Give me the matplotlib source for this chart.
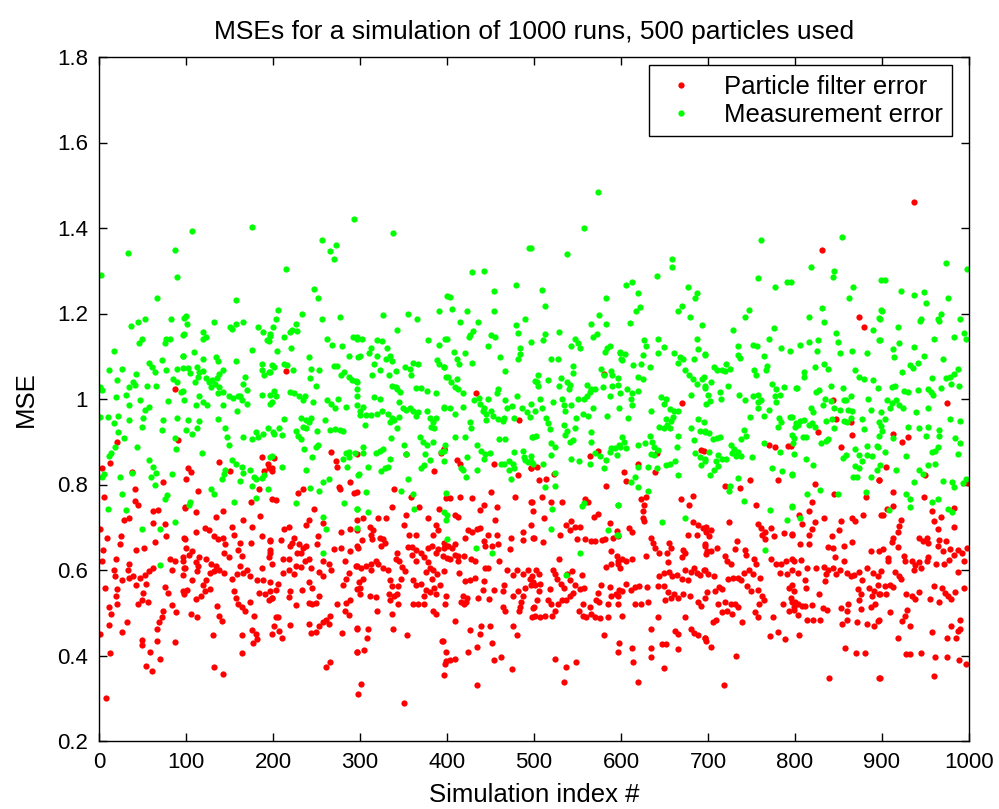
import matplotlib
matplotlib.use("Agg")
import matplotlib.pyplot as plt
from matplotlib.ticker import FuncFormatter

# ---- data: (simulation index, MSE), strip by strip ----
pf_s0 = [(87,1.024),(21,.90),(91,.904),(13,.85),(38,.83),(3,.839),(74,.805),(100,.813),(41,.79),(6,.77),(41,.762),(45,.751),(99,.746),(62,.737),(68,.74),(34,.722),(29,.718),(62,.71),(76,.707),(1,.695),(77,.679),(9,.676),(25,.68),(98,.676),(5,.647),(24,.66),(42,.647),(52,.651),(64,.665),(3,.622),(19,.626),(34,.615),(33,.60),(17,.60),(18,.587),(82,.626),(87,.622),(96,.63),(99,.605),(26,.577),(34,.581),(39,.585),(47,.581),(53,.589),(57,.597),(62,.605),(42,.564),(54,.568),(84,.60),(97,.589),(7,.557),(21,.555),(19,.539),(51,.547),(49,.53),(76,.56),(79,.547),(97,.551),(45,.52),(56,.526),(11,.513),(14,.497),(21,.52),(74,.505),(72,.49),(69,.479),(84,.518),(89,.501),(11,.472),(32,.479),(26,.455),(67,.463),(1,.451),(49,.437),(49,.424),(67,.434),(87,.432),(13,.407),(59,.408),(70,.391),(54,.375),(61,.364),(8,.30)]
pf_s1 = [(187,.864),(194,.848),(199,.839),(190,.831),(138,.852),(151,.831),(102,.839),(106,.829),(114,.785),(184,.789),(175,.76),(199,.766),(99,.747),(111,.735),(143,.739),(134,.724),(185,.727),(166,.718),(153,.701),(176,.701),(122,.699),(126,.693),(132,.68),(137,.672),(142,.674),(145,.66),(111,.689),(99,.672),(155,.682),(162,.664),(175,.664),(187,.68),(197,.668),(100,.651),(107,.645),(103,.635),(115,.63),(111,.618),(123,.626),(129,.615),(134,.609),(144,.639),(149,.63),(160,.647),(164,.632),(196,.647),(97,.622),(98,.605),(114,.609),(113,.597),(128,.593),(132,.597),(138,.601),(144,.593),(162,.609),(159,.59),(165,.593),(170,.599),(187,.604),(199,.615),(123,.576),(119,.564),(122,.551),(128,.555),(117,.54),(107,.576),(153,.579),(174,.585),(182,.576),(189,.576),(197,.572),(101,.554),(98,.543),(111,.532),(155,.551),(157,.534),(160,.52),(164,.513),(168,.505),(174,.526),(184,.547),(191,.545),(199,.534),(136,.515),(106,.497),(113,.489),(138,.493),(141,.48),(178,.493),(131,.449),(164,.449),(176,.459),(180,.451),(182,.438),(177,.43),(199,.451),(164,.405),(132,.372),(143,.357)]
pf_s2 = [(215,1.066),(267,.877),(201,.863),(195,.839),(199,.832),(272,.854),(274,.841),(276,.793),(277,.789),(288,.806),(234,.789),(229,.779),(203,.764),(293,.781),(247,.743),(218,.701),(213,.696),(238,.705),(241,.716),(257,.71),(278,.69),(289,.696),(296,.693),(252,.68),(197,.671),(209,.671),(224,.676),(222,.662),(219,.655),(230,.66),(234,.651),(238,.655),(232,.639),(228,.64),(251,.66),(197,.64),(195,.63),(270,.649),(278,.651),(289,.645),(297,.655),(212,.626),(218,.626),(237,.622),(241,.626),(227,.609),(232,.607),(244,.605),(257,.622),(264,.614),(267,.601),(283,.622),(296,.609),(212,.593),(218,.599),(224,.59),(253,.595),(257,.585),(287,.593),(284,.58),(241,.572),(245,.559),(280,.564),(206,.568),(204,.554),(197,.551),(220,.551),(218,.537),(233,.554),(253,.54),(296,.555),(300,.543),(195,.53),(199,.534),(245,.52),(241,.523),(249,.522),(226,.518),(274,.52),(284,.522),(289,.53),(283,.505),(287,.495),(265,.493),(261,.484),(257,.479),(253,.468),(264,.474),(203,.49),(206,.489),(201,.468),(219,.472),(241,.474),(244,.453),(249,.455),(207,.457),(210,.442),(279,.453),(296,.465),(296,.409),(261,.373),(265,.384),(298,.31)]
pf_s3 = [(297,.871),(353,.871),(396,.883),(393,.874),(385,.832),(399,.768),(297,.782),(339,.789),(359,.771),(337,.747),(368,.747),(391,.743),(353,.729),(378,.721),(297,.718),(304,.722),(321,.722),(330,.721),(351,.705),(356,.682),(364,.682),(387,.705),(384,.682),(390,.693),(311,.701),(315,.693),(313,.681),(314,.672),(323,.676),(327,.672),(329,.664),(324,.655),(302,.671),(298,.651),(355,.654),(360,.654),(364,.647),(360,.635),(364,.622),(370,.64),(374,.63),(378,.651),(383,.655),(387,.639),(378,.618),(380,.605),(376,.595),(384,.601),(390,.649),(396,.651),(343,.64),(341,.626),(345,.622),(348,.607),(352,.597),(396,.597),(295,.609),(301,.605),(307,.609),(313,.614),(318,.622),(321,.615),(326,.605),(332,.599),(313,.599),(388,.59),(383,.58),(299,.572),(304,.58),(300,.557),(334,.576),(337,.562),(333,.543),(334,.53),(347,.579),(344,.562),(342,.545),(339,.539),(361,.576),(364,.564),(370,.568),(376,.554),(374,.539),(380,.549),(385,.559),(387,.545),(392,.564),(312,.539),(318,.537),(344,.52),(361,.52),(367,.52),(374,.52),(398,.52),(384,.503),(387,.497),(337,.497),(320,.503),(338,.463),(297,.463),(309,.463),(308,.442),(354,.449),(394,.434),(305,.413),(297,.409),(399,.409),(398,.38),(301,.334),(350,.29)]
pf_s4 = [(433,1.013),(483,.952),(397,.883),(411,.858),(415,.849),(454,.848),(496,.839),(482,.823),(451,.782),(478,.771),(404,.768),(415,.771),(429,.768),(443,.752),(438,.741),(457,.747),(498,.76),(499,.739),(409,.729),(413,.724),(455,.716),(496,.705),(424,.693),(429,.689),(434,.696),(438,.699),(447,.682),(457,.682),(487,.69),(421,.674),(442,.668),(444,.655),(452,.657),(459,.66),(474,.674),(487,.671),(499,.676),(397,.664),(401,.655),(406,.651),(409,.66),(409,.635),(413,.632),(413,.62),(395,.632),(400,.628),(404,.626),(420,.632),(428,.626),(432,.622),(472,.649),(444,.604),(447,.605),(460,.622),(414,.593),(469,.599),(480,.601),(476,.589),(487,.59),(493,.599),(498,.585),(421,.574),(427,.576),(432,.581),(443,.574),(466,.564),(464,.551),(496,.564),(490,.557),(487,.54),(441,.554),(454,.554),(436,.535),(448,.532),(399,.54),(418,.539),(423,.535),(416,.526),(419,.52),(422,.526),(476,.54),(482,.551),(485,.526),(484,.513),(483,.503),(464,.513),(467,.503),(499,.512),(498,.489),(409,.48),(426,.459),(439,.468),(438,.451),(449,.468),(476,.468),(480,.449),(452,.43),(395,.434),(434,.42),(424,.409),(404,.39),(409,.392),(399,.388),(462,.397),(454,.39),(475,.368),(397,.355),(434,.331)]
pf_s5 = [(580,1.058),(574,.879),(564,.866),(497,.838),(504,.841),(523,.824),(514,.814),(506,.81),(583,.796),(497,.76),(509,.771),(520,.76),(559,.766),(562,.76),(532,.76),(511,.721),(569,.724),(574,.731),(587,.71),(537,.705),(541,.693),(547,.701),(553,.701),(542,.714),(530,.682),(578,.671),(582,.672),(591,.676),(597,.679),(500,.674),(510,.666),(549,.672),(559,.672),(565,.668),(570,.668),(589,.645),(529,.626),(583,.607),(589,.614),(596,.622),(599,.605),(502,.601),(506,.59),(495,.58),(499,.572),(501,.565),(507,.568),(522,.601),(524,.59),(527,.579),(531,.568),(534,.557),(538,.59),(544,.597),(541,.576),(547,.564),(555,.589),(557,.559),(553,.555),(545,.547),(541,.539),(577,.564),(574,.547),(571,.53),(575,.524),(587,.56),(589,.54),(594,.545),(598,.554),(506,.551),(518,.555),(503,.53),(516,.53),(520,.52),(528,.52),(532,.53),(537,.53),(556,.52),(585,.52),(597,.52),(500,.513),(524,.505),(521,.493),(513,.493),(501,.493),(507,.489),(552,.503),(556,.493),(560,.489),(565,.497),(564,.513),(585,.489),(576,.487),(570,.489),(580,.447),(598,.43),(524,.392),(537,.372),(548,.384),(534,.337)]
pf_s6 = [(670,.991),(641,.874),(692,.881),(619,.849),(603,.829),(606,.808),(639,.829),(683,.774),(629,.771),(623,.766),(626,.752),(625,.739),(669,.766),(678,.752),(625,.722),(626,.714),(683,.712),(689,.706),(694,.699),(698,.689),(595,.691),(609,.699),(613,.689),(634,.676),(637,.664),(639,.651),(644,.64),(655,.664),(657,.651),(653,.64),(677,.682),(687,.682),(671,.647),(674,.639),(670,.63),(696,.66),(699,.645),(595,.632),(601,.626),(606,.62),(613,.626),(629,.632),(654,.618),(597,.614),(644,.585),(649,.593),(655,.595),(659,.585),(664,.589),(670,.58),(677,.576),(674,.601),(680,.595),(684,.605),(687,.593),(691,.589),(696,.601),(700,.59),(606,.568),(611,.554),(616,.56),(621,.562),(630,.56),(601,.551),(597,.54),(642,.562),(649,.562),(654,.549),(657,.534),(651,.53),(661,.545),(666,.534),(671,.545),(679,.54),(689,.524),(696,.534),(692,.515),(631,.526),(616,.52),(623,.52),(601,.493),(643,.49),(674,.489),(662,.457),(666,.451),(680,.463),(684,.453),(689,.447),(696,.44),(698,.434),(634,.463),(613,.418),(597,.409),(634,.418),(647,.426),(652,.426),(665,.415),(634,.397),(614,.384),(649,.37),(619,.338)]
pf_s7 = [(770,.893),(777,.888),(792,.889),(695,.879),(719,.797),(737,.791),(748,.81),(780,.81),(755,.752),(724,.712),(757,.707),(698,.701),(703,.693),(701,.679),(761,.699),(765,.689),(772,.699),(776,.679),(765,.672),(762,.682),(787,.687),(796,.682),(733,.668),(731,.649),(697,.657),(704,.645),(710,.651),(698,.637),(719,.632),(722,.622),(726,.615),(743,.647),(744,.635),(753,.626),(755,.615),(772,.626),(778,.614),(784,.615),(790,.622),(796,.626),(695,.599),(707,.585),(741,.593),(747,.601),(752,.59),(760,.582),(723,.579),(729,.581),(734,.581),(738,.576),(783,.593),(791,.59),(745,.562),(749,.551),(699,.549),(708,.551),(713,.56),(716,.555),(793,.559),(799,.551),(757,.554),(762,.54),(764,.53),(759,.52),(711,.52),(720,.524),(726,.52),(731,.52),(734,.513),(786,.52),(796,.524),(799,.513),(716,.501),(722,.505),(728,.497),(754,.501),(757,.489),(775,.49),(793,.503),(709,.484),(706,.479),(739,.479),(771,.445),(780,.455),(789,.438),(697,.44),(703,.42),(732,.40),(718,.331)]
pf_s8 = [(831,1.348),(874,1.192),(879,1.169),(844,.998),(847,.954),(864,.946),(826,.923),(865,.916),(853,.888),(795,.891),(897,.81),(823,.802),(845,.777),(882,.771),(819,.76),(816,.739),(805,.729),(808,.707),(833,.721),(823,.712),(819,.697),(816,.682),(853,.714),(851,.693),(842,.679),(866,.722),(878,.729),(869,.714),(899,.729),(897,.645),(797,.685),(806,.66),(816,.66),(838,.654),(844,.651),(865,.665),(856,.657),(887,.645),(846,.63),(856,.622),(799,.622),(807,.624),(797,.601),(803,.593),(814,.605),(824,.604),(833,.607),(836,.59),(838,.599),(844,.604),(847,.59),(852,.599),(834,.574),(860,.593),(864,.585),(868,.589),(874,.595),(877,.576),(883,.604),(890,.593),(895,.587),(899,.597),(811,.576),(813,.557),(828,.543),(872,.555),(876,.543),(874,.53),(885,.557),(891,.551),(889,.539),(896,.545),(797,.564),(795,.534),(800,.526),(803,.52),(799,.507),(819,.518),(811,.515),(808,.515),(832,.512),(837,.507),(853,.512),(861,.52),(860,.505),(876,.509),(887,.513),(892,.52),(804,.495),(814,.484),(821,.484),(829,.482),(860,.484),(854,.473),(871,.479),(883,.473),(891,.47),(896,.484),(805,.449),(857,.418),(870,.407),(880,.407),(839,.347),(897,.347)]
pf_s9 = [(937,1.461),(975,.991),(913,.918),(923,.899),(930,.91),(949,.823),(897,.81),(905,.841),(999,.804),(913,.782),(948,.771),(901,.729),(906,.743),(913,.749),(983,.745),(957,.739),(968,.724),(960,.714),(964,.697),(983,.701),(922,.716),(920,.704),(918,.689),(913,.676),(911,.666),(943,.676),(947,.668),(952,.674),(953,.664),(966,.671),(974,.668),(964,.655),(970,.645),(978,.649),(901,.649),(907,.628),(907,.62),(925,.632),(926,.622),(918,.654),(934,.62),(938,.612),(942,.618),(937,.601),(945,.605),(952,.62),(953,.63),(962,.615),(977,.624),(983,.635),(987,.647),(992,.64),(998,.651),(994,.622),(915,.595),(919,.585),(922,.579),(971,.615),(987,.595),(895,.565),(903,.562),(909,.564),(913,.56),(898,.543),(905,.543),(960,.562),(969,.557),(972,.547),(976,.539),(979,.532),(994,.557),(984,.549),(928,.545),(934,.539),(938,.532),(943,.549),(955,.532),(966,.526),(909,.501),(929,.507),(926,.493),(923,.48),(932,.468),(918,.442),(895,.48),(957,.455),(975,.442),(979,.468),(987,.457),(985,.44),(990,.463),(990,.482),(928,.403),(932,.403),(945,.407),(961,.397),(975,.397),(989,.39),(996,.38),(898,.347),(960,.351)]

me_s0 = [(33,1.342),(87,1.349),(2,1.29),(90,1.286),(67,1.236),(37,1.17),(45,1.18),(53,1.188),(83,1.188),(98,1.19),(97,1.15),(49,1.14),(46,1.13),(77,1.14),(82,1.14),(76,1.13),(17,1.113),(96,1.10),(57,1.085),(61,1.075),(64,1.063),(72,1.091),(12,1.067),(26,1.07),(77,1.067),(90,1.07),(96,1.073),(43,1.058),(21,1.044),(85,1.047),(1,1.027),(4,1.02),(34,1.027),(41,1.033),(39,1.04),(19,1.004),(31,1.01),(55,1.03),(66,1.03),(90,1.04),(94,1.016),(79,.996),(35,.987),(47,.997),(53,.974),(57,.981),(51,.956),(1,.958),(10,.958),(17,.944),(22,.96),(22,.922),(34,.951),(29,.908),(49,.935),(74,.95),(90,.956),(100,.927),(72,.927),(44,.888),(87,.908),(88,.882),(57,.858),(62,.841),(66,.827),(60,.818),(14,.874),(18,.888),(12,.866),(6,.824),(4,.818),(24,.818),(38,.826),(84,.824),(64,.80),(26,.777),(78,.775),(76,.765),(10,.743),(31,.74),(49,.696),(70,.697),(87,.712),(70,.612)]
me_s1 = [(107,1.394),(176,1.403),(157,1.232),(100,1.194),(101,1.175),(98,1.152),(132,1.18),(120,1.157),(123,1.144),(119,1.14),(151,1.169),(157,1.175),(165,1.18),(153,1.163),(183,1.169),(188,1.157),(196,1.152),(193,1.138),(109,1.11),(97,1.10),(120,1.094),(134,1.098),(137,1.09),(157,1.09),(176,1.115),(113,1.075),(115,1.063),(114,1.052),(102,1.073),(105,1.06),(120,1.065),(123,1.05),(126,1.04),(130,1.044),(133,1.035),(129,1.027),(136,1.05),(138,1.058),(143,1.069),(187,1.069),(190,1.056),(187,1.081),(197,1.063),(199,1.08),(168,1.052),(166,1.035),(170,1.021),(162,1.006),(110,1.04),(138,1.027),(115,1.006),(120,.994),(97,1.019),(98,.998),(112,.985),(124,.985),(137,1.013),(143,1.016),(149,1.006),(154,1.002),(160,1.006),(164,.998),(170,.989),(143,.985),(187,1.01),(196,1.01),(199,.994),(159,.973),(102,.952),(115,.949),(113,.931),(107,.918),(137,.954),(145,.931),(147,.91),(149,.893),(166,.91),(180,.923),(183,.91),(189,.918),(194,.931),(200,.923),(176,.906),(118,.873),(153,.858),(157,.848),(164,.841),(166,.827),(174,.835),(178,.818),(180,.812),(176,.797),(145,.835),(141,.814),(144,.824),(187,.816),(190,.822),(196,.864),(162,.808),(129,.789),(132,.777),(105,.76),(103,.752),(155,.76),(180,.768),(194,.789)]
me_s2 = [(293,1.422),(256,1.372),(272,1.361),(266,1.347),(270,1.328),(215,1.305),(247,1.258),(252,1.236),(206,1.208),(203,1.188),(200,1.169),(197,1.148),(195,1.136),(233,1.198),(256,1.188),(277,1.192),(226,1.175),(222,1.161),(228,1.158),(219,1.157),(213,1.144),(262,1.14),(268,1.127),(279,1.125),(292,1.144),(296,1.141),(205,1.113),(221,1.119),(241,1.098),(287,1.10),(298,1.098),(201,1.075),(213,1.081),(216,1.08),(223,1.069),(195,1.063),(244,1.071),(253,1.069),(270,1.077),(274,1.077),(278,1.056),(282,1.063),(287,1.052),(291,1.044),(297,1.04),(296,1.023),(242,1.048),(249,1.03),(201,1.019),(204,1.006),(197,.988),(219,1.016),(224,1.013),(230,1.006),(234,.998),(237,1.006),(246,.994),(262,.998),(267,.989),(275,.999),(271,.98),(284,.981),(296,.985),(300,.973),(213,.954),(232,.956),(238,.952),(241,.946),(244,.956),(234,.935),(238,.933),(260,.95),(201,.918),(207,.931),(210,.916),(226,.924),(229,.913),(232,.906),(250,.924),(265,.927),(271,.929),(277,.927),(280,.924),(252,.893),(249,.888),(236,.883),(245,.864),(199,.866),(284,.873),(287,.877),(280,.86),(287,.864),(294,.873),(210,.841),(238,.833),(257,.807),(264,.814),(285,.841),(298,.822),(243,.791),(253,.785),(226,.757),(282,.757),(297,.743),(257,.724),(261,.697),(257,.64)]
me_s3 = [(338,1.389),(400,1.24),(327,1.197),(355,1.198),(366,1.188),(391,1.207),(343,1.161),(297,1.146),(302,1.14),(320,1.138),(325,1.136),(313,1.119),(310,1.108),(331,1.119),(330,1.094),(334,1.10),(337,1.088),(378,1.138),(391,1.127),(398,1.141),(300,1.10),(319,1.10),(316,1.081),(314,1.056),(323,1.069),(333,1.056),(341,1.065),(352,1.075),(357,1.071),(361,1.085),(367,1.081),(359,1.056),(388,1.091),(391,1.081),(396,1.075),(399,1.052),(295,1.041),(337,1.031),(341,1.027),(343,1.023),(346,1.016),(364,1.025),(370,1.025),(377,1.019),(387,1.015),(297,1.006),(304,.981),(316,1.004),(323,.999),(345,.994),(349,.98),(353,.974),(357,.98),(361,.973),(364,.96),(367,.969),(396,.981),(300,.963),(307,.963),(313,.963),(319,.966),(325,.971),(332,.964),(337,.956),(334,.946),(339,.952),(345,.958),(306,.939),(342,.933),(377,.971),(380,.956),(384,.946),(382,.935),(387,.956),(385,.931),(336,.908),(369,.91),(372,.899),(377,.893),(384,.899),(398,.893),(304,.888),(304,.874),(318,.874),(323,.879),(327,.883),(350,.893),(353,.871),(334,.86),(375,.871),(393,.877),(396,.854),(309,.841),(324,.831),(329,.838),(332,.841),(299,.824),(370,.838),(374,.846),(380,.858),(355,.814),(307,.782),(347,.785),(361,.777),(362,.743),(297,.743),(399,.779),(309,.735),(396,.735),(399,.718),(297,.699)]
me_s4 = [(494,1.353),(429,1.297),(442,1.30),(454,1.253),(479,1.267),(403,1.238),(406,1.211),(423,1.207),(454,1.207),(490,1.188),(415,1.18),(436,1.18),(479,1.173),(482,1.155),(400,1.141),(427,1.15),(430,1.158),(425,1.146),(451,1.15),(455,1.144),(447,1.125),(497,1.133),(484,1.119),(484,1.105),(482,1.094),(408,1.11),(411,1.094),(414,1.081),(421,1.108),(429,1.085),(461,1.098),(397,1.075),(467,1.066),(401,1.052),(405,1.04),(411,1.046),(409,1.027),(413,1.023),(418,1.013),(459,1.023),(457,1.013),(501,1.041),(431,.998),(437,1.002),(438,.989),(443,.98),(441,.971),(445,.966),(450,.973),(453,.96),(459,.954),(464,.949),(445,.952),(418,.981),(447,1.0),(467,.998),(475,.983),(469,.98),(480,1.006),(486,.98),(492,.97),(495,.958),(397,.98),(404,.98),(409,.966),(426,.946),(428,.933),(465,.956),(477,.956),(498,.91),(409,.91),(421,.91),(460,.906),(467,.906),(434,.893),(439,.879),(444,.872),(443,.86),(449,.874),(477,.877),(487,.879),(489,.864),(493,.852),(490,.858),(497,.866),(397,.879),(423,.864),(471,.854),(466,.848),(471,.835),(462,.848),(476,.849),(477,.838),(416,.839),(418,.835),(434,.835),(474,.814),(422,.818),(400,.729),(400,.672),(433,.651),(452,.64)]
me_s5 = [(573,1.484),(557,1.399),(497,1.353),(538,1.339),(509,1.255),(513,1.217),(583,1.236),(575,1.197),(583,1.175),(566,1.175),(529,1.157),(568,1.144),(572,1.152),(513,1.152),(510,1.138),(547,1.14),(551,1.13),(543,1.125),(553,1.119),(584,1.119),(582,1.11),(587,1.123),(599,1.11),(600,1.094),(520,1.094),(528,1.094),(545,1.077),(545,1.06),(577,1.071),(580,1.056),(589,1.066),(505,1.056),(503,1.04),(505,1.03),(516,1.044),(531,1.05),(529,1.03),(538,1.04),(541,1.033),(540,1.023),(561,1.033),(570,1.023),(579,1.027),(590,1.056),(590,1.03),(596,1.033),(551,.999),(557,.999),(561,1.006),(564,1.016),(566,1.023),(587,1.006),(522,.994),(497,.988),(507,.999),(509,.98),(501,.971),(532,.999),(534,.985),(536,.973),(543,.985),(556,.966),(562,.96),(568,.98),(584,.96),(598,.98),(514,.956),(516,.944),(518,.93),(534,.939),(536,.916),(538,.924),(547,.933),(548,.956),(566,.923),(499,.91),(502,.914),(519,.898),(524,.888),(520,.869),(541,.899),(545,.904),(566,.899),(570,.874),(576,.866),(589,.885),(593,.885),(598,.893),(587,.877),(543,.86),(552,.854),(564,.848),(583,.858),(497,.854),(499,.849),(510,.848),(580,.838),(524,.827),(524,.797),(513,.793),(555,.749),(557,.756),(521,.743),(596,.752),(519,.697),(585,.693),(596,.682),(553,.64),(537,.589)]
me_s6 = [(659,1.328),(659,1.308),(641,1.288),(606,1.267),(613,1.273),(619,1.248),(677,1.263),(687,1.248),(685,1.236),(622,1.215),(617,1.205),(670,1.217),(666,1.207),(610,1.177),(679,1.192),(693,1.173),(626,1.138),(629,1.123),(642,1.141),(649,1.121),(687,1.141),(688,1.116),(599,1.108),(605,1.106),(601,1.091),(625,1.102),(642,1.108),(661,1.108),(668,1.098),(665,1.085),(671,1.094),(684,1.094),(697,1.102),(614,1.08),(623,1.081),(633,1.075),(674,1.069),(678,1.056),(683,1.046),(687,1.035),(693,1.046),(696,1.03),(620,1.052),(625,1.046),(597,1.048),(599,1.013),(607,1.023),(613,1.013),(619,1.019),(611,1.0),(613,.985),(646,1.005),(652,1.0),(649,.989),(680,1.01),(634,.971),(608,.956),(656,.977),(661,.971),(666,.971),(652,.954),(657,.949),(660,.958),(653,.939),(649,.933),(644,.935),(656,.931),(698,.988),(689,.954),(695,.946),(601,.91),(604,.899),(599,.888),(606,.885),(595,.869),(619,.893),(628,.896),(633,.914),(636,.899),(638,.888),(643,.881),(666,.913),(680,.931),(684,.904),(664,.888),(691,.924),(697,.924),(634,.871),(638,.868),(662,.854),(631,.841),(641,.838),(652,.846),(656,.848),(685,.874),(691,.864),(696,.856),(692,.846),(665,.823),(619,.841),(616,.818),(611,.807),(620,.793),(631,.785),(597,.752),(674,.721),(647,.712),(595,.682)]
me_s7 = [(761,1.372),(757,1.282),(777,1.263),(791,1.273),(747,1.208),(743,1.192),(729,1.161),(776,1.165),(770,1.141),(734,1.123),(752,1.127),(756,1.123),(784,1.119),(794,1.113),(697,1.105),(734,1.102),(737,1.096),(764,1.10),(768,1.077),(767,1.069),(707,1.075),(710,1.069),(716,1.069),(721,1.081),(719,1.066),(725,1.071),(753,1.069),(755,1.055),(695,1.052),(703,1.04),(697,1.025),(723,1.031),(774,1.035),(778,1.023),(777,1.008),(778,.994),(787,1.027),(783,1.01),(801,1.025),(700,1.01),(702,.996),(714,1.016),(715,.999),(736,1.01),(743,.998),(752,1.006),(757,1.01),(757,.994),(761,.998),(748,.958),(757,.98),(764,.96),(770,.974),(782,.956),(784,.946),(780,.935),(794,.958),(697,.923),(701,.921),(706,.906),(710,.908),(714,.91),(741,.927),(744,.914),(738,.906),(796,.916),(799,.908),(726,.893),(730,.883),(734,.877),(738,.866),(732,.866),(728,.874),(750,.864),(764,.898),(783,.877),(798,.898),(701,.877),(697,.86),(711,.868),(716,.86),(721,.86),(711,.843),(707,.835),(702,.822),(709,.856),(774,.838),(785,.832),(796,.824),(734,.816),(725,.797),(724,.785),(741,.762),(771,.741),(796,.749),(791,.718),(766,.646)]
me_s8 = [(854,1.38),(818,1.308),(845,1.30),(844,1.286),(795,1.273),(867,1.263),(862,1.236),(899,1.278),(831,1.213),(816,1.192),(833,1.18),(899,1.208),(897,1.19),(847,1.155),(890,1.161),(897,1.138),(806,1.127),(816,1.133),(826,1.138),(825,1.113),(849,1.133),(852,1.108),(865,1.113),(883,1.108),(823,1.075),(833,1.083),(838,1.071),(810,1.063),(810,1.052),(869,1.069),(873,1.052),(879,1.046),(890,1.044),(895,1.025),(802,1.025),(824,1.016),(828,1.021),(841,1.03),(855,1.025),(859,.998),(864,1.006),(856,.998),(884,.999),(834,.999),(832,.985),(841,.996),(818,.98),(821,.969),(797,.958),(801,.944),(806,.948),(810,.952),(845,.98),(852,.974),(861,.974),(865,.971),(864,.956),(860,.946),(856,.949),(843,.954),(845,.933),(836,.948),(877,.954),(879,.929),(887,.974),(896,.946),(899,.969),(800,.935),(803,.939),(809,.91),(813,.91),(816,.939),(820,.944),(823,.935),(830,.898),(836,.902),(838,.906),(869,.883),(874,.868),(877,.856),(874,.839),(869,.843),(867,.818),(883,.89),(883,.868),(889,.866),(894,.891),(799,.871),(797,.822),(813,.86),(821,.846),(855,.863),(859,.868),(887,.818),(894,.835),(871,.818),(829,.787),(814,.777),(849,.777),(882,.782),(797,.747),(806,.721)]
me_s9 = [(974,1.319),(998,1.305),(904,1.278),(922,1.253),(937,1.244),(948,1.25),(951,1.225),(976,1.236),(900,1.207),(898,1.188),(945,1.186),(944,1.182),(964,1.186),(968,1.198),(966,1.182),(990,1.188),(918,1.169),(994,1.155),(997,1.141),(898,1.138),(983,1.146),(960,1.141),(920,1.131),(913,1.116),(914,1.098),(937,1.121),(948,1.10),(970,1.094),(932,1.08),(936,1.073),(941,1.085),(923,1.063),(987,1.071),(983,1.058),(978,1.052),(974,1.05),(979,1.035),(958,1.048),(968,1.025),(989,1.03),(911,1.027),(915,1.03),(925,1.019),(930,1.016),(941,1.021),(953,1.023),(956,1.016),(959,1.01),(906,.998),(911,.991),(916,.998),(919,.985),(924,.98),(909,.98),(953,.98),(939,.969),(903,.954),(899,.938),(900,.924),(897,.914),(978,.954),(990,.949),(930,.935),(943,.933),(953,.935),(965,.927),(966,.914),(950,.913),(984,.908),(990,.898),(987,.871),(895,.888),(903,.877),(913,.908),(964,.888),(961,.879),(957,.877),(928,.866),(953,.846),(961,.848),(916,.835),(898,.846),(943,.835),(947,.824),(937,.806),(970,.808),(980,.806),(983,.793),(996,.814),(993,.804),(928,.777),(932,.766),(957,.76),(964,.766),(976,.743),(980,.735),(932,.747),(908,.741)]

pf_strips = [pf_s0, pf_s1, pf_s2, pf_s3, pf_s4, pf_s5, pf_s6, pf_s7, pf_s8, pf_s9]
me_strips = [me_s0, me_s1, me_s2, me_s3, me_s4, me_s5, me_s6, me_s7, me_s8, me_s9]

pf_x = [p[0] for s in pf_strips for p in s]
pf_y = [p[1] for s in pf_strips for p in s]
me_x = [p[0] for s in me_strips for p in s]
me_y = [p[1] for s in me_strips for p in s]

title = "MSEs for a simulation of 1000 runs, 500 particles used"
xlabel = "Simulation index #"
ylabel = "MSE"
labels = ["Particle filter error", "Measurement error"]
xticks = list(range(0, 1001, 100))
yticks = [0.2, 0.4, 0.6, 0.8, 1.0, 1.2, 1.4, 1.6, 1.8]

plt.rcParams['font.family'] = ['Liberation Sans', 'DejaVu Sans']

W, H = 999, 809
fig = plt.figure(figsize=(W / 100, H / 100), dpi=100)
fig.patch.set_facecolor('white')
ax = fig.add_axes([99 / W, 1 - 741 / H, 870 / W, 684 / H])

ax.plot(pf_x, pf_y, linestyle='none', marker='o', ms=4.5, color=(1, 0, 0), mec='none', label=labels[0])
ax.plot(me_x, me_y, linestyle='none', marker='o', ms=4.5, color=(0, 1, 0), mec='none', label=labels[1])

ax.set_xlim(0, 1000)
ax.set_ylim(0.2, 1.8)
ax.set_xticks(xticks)
ax.set_yticks(yticks)
ax.yaxis.set_major_formatter(FuncFormatter(lambda v, p: f"{v:g}"))
ax.tick_params(direction='in', top=True, right=True, length=6, width=1, labelsize=16, pad=8)
for sp in ax.spines.values():
    sp.set_linewidth(1.0)
    sp.set_color('black')

ax.set_title(title, fontsize=19, pad=13)
ax.set_xlabel(xlabel, fontsize=18.5, labelpad=7)
ax.set_ylabel(ylabel, fontsize=18.5, labelpad=14)

leg = ax.legend(loc='upper right', bbox_to_anchor=(952 / W, 1 - 65 / H), bbox_transform=fig.transFigure,
                borderaxespad=0, fancybox=False, framealpha=1, edgecolor='black', fontsize=18.5,
                handlelength=1.8, handletextpad=0.75, borderpad=0.37, labelspacing=0.17, markerscale=1.0)
leg.get_frame().set_linewidth(1.0)

fig.savefig('out.png', dpi=100, facecolor='white')
